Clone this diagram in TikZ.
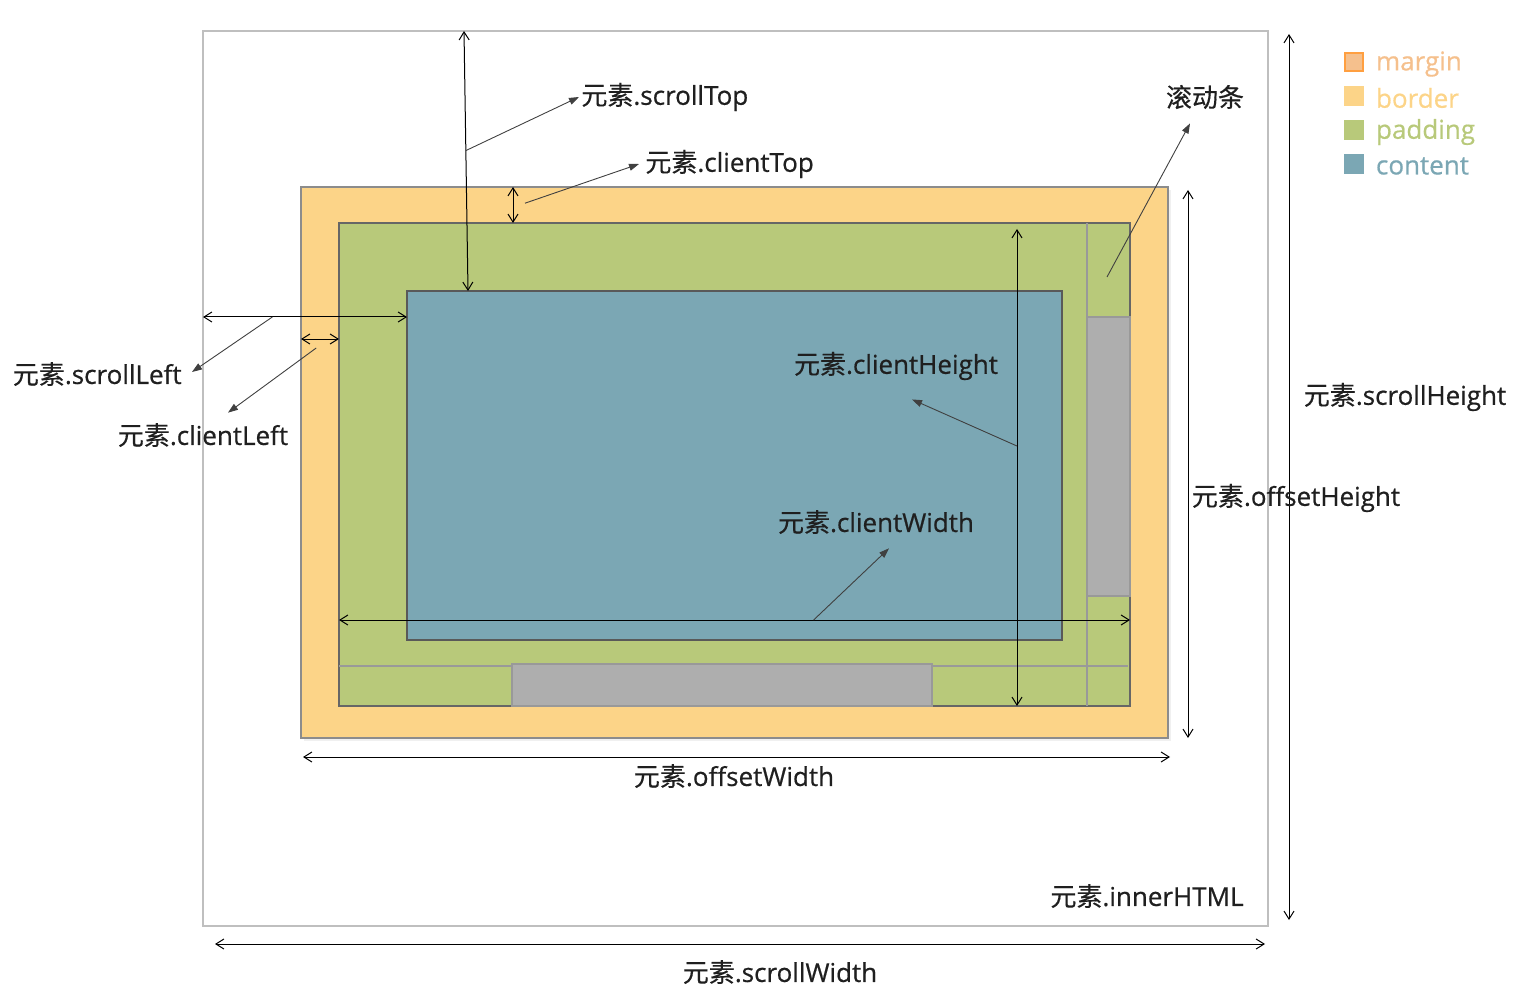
\documentclass[tikz,border=0pt]{standalone}
\usepackage{fontspec}
\setmainfont{Open Sans}
\newfontfamily\lblfont{Open Sans}[FakeBold=0.6]
\newfontfamily\cjk{Noto Sans CJK SC}[FakeBold=0.4]
\usepackage{xcolor}
\usepackage{tikz}
\usetikzlibrary{arrows.meta,positioning,shadows}
\definecolor{marginc}{HTML}{F5C08D}
\definecolor{borderc}{HTML}{FCD488}
\definecolor{paddingc}{HTML}{B8C97A}
\definecolor{contentc}{HTML}{7BA7B4}
\definecolor{barc}{HTML}{AEAEAE}
\newcommand{\Elem}{{\cjk 元素}}

\begin{document}
\begin{tikzpicture}[
  x=0.5pt, y=-0.5pt,
  box/.style={anchor=north west, inner sep=0pt, outer sep=0pt},
  lbl/.style={font=\lblfont\fontsize{13}{15}\selectfont, text=black!88, inner sep=1pt},
  dim/.style={{Straight Barb[length=4pt,width=5pt]}-{Straight Barb[length=4pt,width=5pt]}, line width=0.5pt},
  ptr/.style={-{Triangle[length=5pt,width=3.5pt]}, line width=0.45pt, draw=black!75},
  bar/.style={draw=black!40, line width=1pt},
  key/.style={minimum size=9pt, inner sep=0pt, line width=0.6pt},
  keytxt/.style={font=\lblfont\fontsize{13}{15}\selectfont, inner sep=0pt}
]
  \useasboundingbox (0,0) rectangle (1518,994);

  % boxes
  \node[box, draw=black!25, line width=1pt, minimum width=532.5pt, minimum height=447.5pt] (outer) at (203,31) {};
  \node[box, draw=black!45, fill=borderc, line width=0.6pt, minimum width=433.5pt, minimum height=275.5pt,
        drop shadow={shadow xshift=1.5pt, shadow yshift=-1.5pt, opacity=0.12}] (bord) at (301,187) {};
  \node[box, draw=black!60, fill=paddingc, line width=0.6pt, minimum width=395.5pt, minimum height=241.5pt] (pad) at (339,223) {};

  % scroll bars
  \draw[bar] (1087,0 |- pad.north) -- (1087,0 |- pad.south);
  \draw[bar] (pad.west |- 0,666) -- (1128,666);
  \node[box, draw=black!40, fill=barc, line width=0.6pt, minimum width=21.5pt, minimum height=139.5pt] (vthumb) at (1087,317) {};
  \node[box, draw=black!40, fill=barc, line width=0.6pt, minimum width=210pt, minimum height=21pt] (hthumb) at (512,664) {};

  \node[box, draw=black!65, fill=contentc, line width=0.6pt, minimum width=327.5pt, minimum height=174.5pt] (cont) at (407,291) {};

  % dimension lines
  \draw[dim] (464,0 |- outer.north) -- (468,0 |- cont.north) coordinate[pos=0.46] (stMid);
  \draw[dim] (513,0 |- bord.north) -- (513,0 |- pad.north) coordinate[pos=0.45] (ctMid);
  \draw[dim] (outer.west |- 0,317) -- (cont.west |- 0,317) coordinate[pos=0.34] (slMid);
  \draw[dim] (bord.west |- 0,339) -- (pad.west |- 0,339) coordinate[pos=0.4] (clMid);
  \draw[dim] (1017,229) -- (1017,0 |- pad.south) coordinate[pos=0.455] (chMid);
  \draw[dim] (pad.west |- 0,620) -- (pad.east |- 0,620) coordinate[pos=0.6] (cwMid);
  \draw[dim] (1188,190) -- (1188,0 |- bord.south);
  \draw[dim] (303,757) -- (1170,757);
  \draw[dim] (1289,34) -- (1289,920);
  \draw[dim] (215,944) -- (1265,944);
  \coordinate (sbFrom) at (1107,277);

  % labels
  \node[lbl, anchor=west] (stLbl) at (579,97) {\Elem.scrollTop};
  \node[lbl, anchor=west] (ctLbl) at (643,164) {\Elem.clientTop};
  \node[lbl, anchor=east] (slLbl) at (184,374) {\Elem.scrollLeft};
  \node[lbl] (clLbl) at (203,435) {\Elem.clientLeft};
  \node[lbl] (chLbl) at (896,366) {\Elem.clientHeight};
  \node[lbl] (cwLbl) at (876,522) {\Elem.clientWidth};
  \node[lbl] (sbLbl) at (1205,97) {\cjk 滚动条};
  \node[lbl] (ohLbl) at (1296,498) {\Elem.offsetHeight};
  \node[lbl] (shLbl) at (1405,397) {\Elem.scrollHeight};
  \node[lbl] (owLbl) at (734,776) {\Elem.offsetWidth};
  \node[lbl] (swLbl) at (780,972) {\Elem.scrollWidth};
  \node[lbl, anchor=east] (ihLbl) at (1246,896) {\Elem.innerHTML};

  % pointers
  \draw[ptr] (stMid) -- (stLbl.west);
  \draw[ptr] ([xshift=6pt]ctMid) -- ([xshift=-2pt]ctLbl.west);
  \draw[ptr] (slMid) -- ([shift={(8,-2)}]slLbl.east);
  \draw[ptr] ([yshift=-4.5pt]clMid) -- ([shift={(25,-8)}]clLbl.north);
  \draw[ptr] (chMid) -- ([shift={(16,17)}]chLbl.south);
  \draw[ptr] (cwMid) -- ([shift={(13,12)}]cwLbl.south);
  \draw[ptr] (sbFrom) -- ([shift={(-15,12)}]sbLbl.south);

  % legend
  \foreach \nm/\col/\edge [count=\i] in {margin/marginc/orange!75, border/borderc/borderc,
                                         padding/paddingc/paddingc, content/contentc/contentc}
  {
    \node[key, fill=\col, draw=\edge] (key\i) at (1354,28+34*\i) {};
    \node[keytxt, text=\col, right=6pt of key\i, yshift=-1pt] (keyTxt\i) {\nm};
  }
\end{tikzpicture}
\end{document}
